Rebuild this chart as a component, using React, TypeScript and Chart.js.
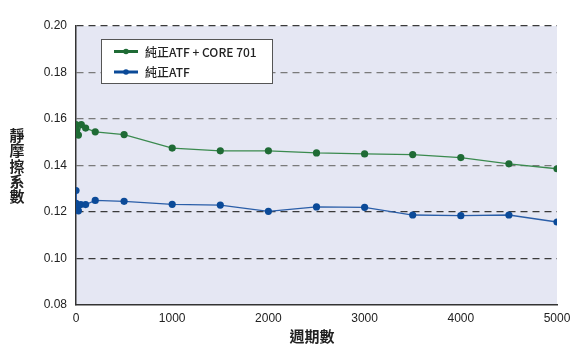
import React, { useEffect, useRef } from "react";
import { Chart, registerables } from "chart.js";

Chart.register(...registerables);

const seriesLabels = ["純正ATF + CORE 701", "純正ATF"];

const xGreen = [0, 5, 25, 55, 100, 200, 500, 1000, 1500, 2000, 2500, 3000, 3500, 4000, 4500, 5000];
const yGreen = [0.1576, 0.1553, 0.1531, 0.1576, 0.1561, 0.1545, 0.1533, 0.1475, 0.1463, 0.1463, 0.1454, 0.145, 0.1447, 0.1434, 0.1407, 0.1386];

const xBlue = [0, 1, 5, 25, 50, 100, 200, 500, 1000, 1500, 2000, 2500, 3000, 3500, 4000, 4500, 5000];
const yBlue = [0.1292, 0.1237, 0.1222, 0.1205, 0.1232, 0.1232, 0.125, 0.1246, 0.1233, 0.123, 0.1203, 0.1222, 0.122, 0.1187, 0.1184, 0.1187, 0.1157];

const xTitle = "週期數";
const yTitle = "靜摩擦系數";

const GREEN_LINE = "#3a8a4e";
const GREEN_PT = "#1f6b35";
const BLUE_LINE = "#2a5ea8";
const BLUE_PT = "#0b4a98";

const LATIN = "'Liberation Sans', Arial, sans-serif";
const CJK = "'Noto Sans CJK TC', 'Noto Sans', sans-serif";

const bgPlugin = {
  id: "plotBg",
  beforeDraw(chart: any) {
    const { ctx, chartArea: a } = chart;
    ctx.save();
    ctx.fillStyle = "#e5e7f3";
    ctx.fillRect(a.left, a.top, a.right - a.left, a.bottom - a.top);
    ctx.restore();
  },
};

const textPlugin = {
  id: "customText",
  afterDraw(chart: any) {
    const { ctx, chartArea: a } = chart;
    ctx.save();
    // Y title stacked vertically
    ctx.fillStyle = "#222";
    ctx.font = `bold 15px ${CJK}`;
    ctx.textAlign = "center";
    ctx.textBaseline = "middle";
    const chars = Array.from(yTitle);
    const step = 15.3;
    const cy = 166;
    chars.forEach((c, i) => {
      ctx.fillText(c, 17, cy + (i - (chars.length - 1) / 2) * step);
    });
    // X title
    ctx.fillText(xTitle, 312, 336);

    // Legend
    const lx = a.left + 25;
    const ly = a.top + 13;
    const lw = 171;
    const lh = 44;
    ctx.fillStyle = "#ffffff";
    ctx.fillRect(lx, ly, lw, lh);
    ctx.strokeStyle = "#555";
    ctx.lineWidth = 1;
    ctx.strokeRect(lx + 0.5, ly + 0.5, lw, lh);
    const rows = [
      { label: seriesLabels[0], line: GREEN_LINE, pt: GREEN_PT, y: ly + 12.5 },
      { label: seriesLabels[1], line: BLUE_LINE, pt: BLUE_PT, y: ly + 33 },
    ];
    rows.forEach((r) => {
      ctx.strokeStyle = r.pt;
      ctx.lineWidth = 3;
      ctx.beginPath();
      ctx.moveTo(lx + 13, r.y);
      ctx.lineTo(lx + 37, r.y);
      ctx.stroke();
      ctx.fillStyle = r.pt;
      ctx.beginPath();
      ctx.arc(lx + 25, r.y, 2.8, 0, Math.PI * 2);
      ctx.fill();
      ctx.fillStyle = "#222";
      ctx.textAlign = "left";
      ctx.font = `500 12px ${CJK}`;
      ctx.fillText(r.label, lx + 44, r.y + 0.5);
    });
    ctx.restore();
  },
};

function toPoints(xs: number[], ys: number[]) {
  return xs.map((x, i) => ({ x, y: ys[i] }));
}

export default function App() {
  const ref = useRef<HTMLCanvasElement | null>(null);
  useEffect(() => {
    document.body.style.margin = "0";
    const canvas = ref.current!;
    const chart = new Chart(canvas, {
      type: "line",
      data: {
        datasets: [
          {
            label: seriesLabels[0],
            data: toPoints(xGreen, yGreen),
            borderColor: GREEN_LINE,
            backgroundColor: GREEN_PT,
            pointBackgroundColor: GREEN_PT,
            pointBorderWidth: 0,
            pointRadius: 3.6,
            borderWidth: 1.3,
            tension: 0,
          },
          {
            label: seriesLabels[1],
            data: toPoints(xBlue, yBlue),
            borderColor: BLUE_LINE,
            backgroundColor: BLUE_PT,
            pointBackgroundColor: BLUE_PT,
            pointBorderWidth: 0,
            pointRadius: 3.6,
            borderWidth: 1.3,
            tension: 0,
          },
        ],
      },
      options: {
        responsive: false,
        animation: false,
        devicePixelRatio: 1,
        layout: { padding: { left: 30, right: 24, top: 26, bottom: 0 } },
        plugins: {
          legend: { display: false },
          tooltip: { enabled: false },
        },
        scales: {
          x: {
            type: "linear",
            min: 0,
            max: 5000,
            afterFit(scale: any) {
              scale.height = 51;
            },
            ticks: {
              stepSize: 1000,
              padding: 6,
              color: "#222",
              font: { family: LATIN, size: 12 },
              callback: (v: any) => String(v),
              maxRotation: 0,
            },
            grid: { display: false, drawTicks: false },
            border: { display: true, color: "#333", width: 1.5 },
          },
          y: {
            type: "linear",
            min: 0.08,
            max: 0.2,
            afterFit(scale: any) {
              scale.width = 46;
            },
            ticks: {
              stepSize: 0.02,
              padding: 9,
              color: "#222",
              font: { family: LATIN, size: 12 },
              callback: (v: any) => Number(v).toFixed(2),
            },
            grid: {
              drawTicks: false,
              lineWidth: 1.3,
              color: (c: any) => {
                const v = Math.round((c.tick?.value ?? 0) * 100);
                if (v === 8) return "rgba(0,0,0,0)";
                if (v === 20 || v === 12 || v === 10) return "#3a3a3a";
                return "#7a7a7a";
              },
            },
            border: { display: true, color: "#333", width: 1.5, dash: [7, 5] },
          },
        },
      },
      plugins: [bgPlugin, textPlugin],
    } as any);
    return () => chart.destroy();
  }, []);
  return (
    <div style={{ position: "absolute", left: 0, top: 0, width: 581, height: 356 }}>
      <canvas ref={ref} width={581} height={356} style={{ width: 581, height: 356 }} />
    </div>
  );
}
